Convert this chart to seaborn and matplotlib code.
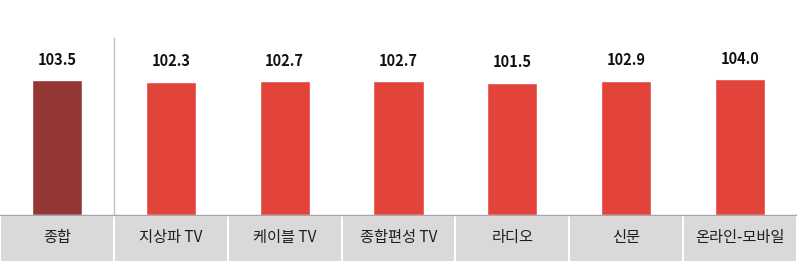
import matplotlib
matplotlib.use("Agg")
import matplotlib.pyplot as plt
from matplotlib.patches import Rectangle
import seaborn as sns
import pandas as pd

categories = ["종합", "지상파 TV", "케이블 TV", "종합편성 TV", "라디오", "신문", "온라인-모바일"]
values = [103.5, 102.3, 102.7, 102.7, 101.5, 102.9, 104.0]
value_labels = ["103.5", "102.3", "102.7", "102.7", "101.5", "102.9", "104.0"]
colors = ["#953735", "#E2433B", "#E2433B", "#E2433B", "#E2433B", "#E2433B", "#E2433B"]

sns.set_theme(style="white")
plt.rcParams['font.family'] = ['Noto Sans CJK KR', 'DejaVu Sans']

W, H = 797, 264
fig = plt.figure(figsize=(W / 100, H / 100), dpi=100)

base_y = 215
ax = fig.add_axes([0, 1 - base_y / H, 1, base_y / H])
df = pd.DataFrame({"cat": categories, "val": values})
sns.barplot(data=df, x="cat", y="val", hue="cat", palette=colors, order=categories,
            hue_order=categories, legend=False, width=0.44, ax=ax, saturation=1)
ax.set_xlim(-0.5, len(categories) - 0.5)
ax.set_ylim(0, 165)
ax.set_xticks([])
ax.set_yticks([])
ax.set_xlabel("")
ax.set_ylabel("")
for s in ["top", "left", "right"]:
    ax.spines[s].set_visible(False)
ax.spines["bottom"].set_color("#A6A6A6")
ax.spines["bottom"].set_linewidth(1.0)

# value labels
for i, cont in enumerate(ax.containers):
    ax.bar_label(cont, labels=[value_labels[i]], padding=9, fontsize=10.5,
                 fontweight="bold", color="#111111")

# separator line between first and second group
ax.plot([0.5, 0.5], [0, 136], color="#BFBFBF", lw=1.0, clip_on=False)

# bottom category boxes
bax = fig.add_axes([0, 3 / H, 1, 45 / H])
bax.set_xlim(-0.5, len(categories) - 0.5)
bax.set_ylim(0, 1)
bax.axis("off")
gap = 0.009
for i, cat in enumerate(categories):
    bax.add_patch(Rectangle((i - 0.5 + gap, 0), 1 - 2 * gap, 1, facecolor="#D9D9D9",
                            edgecolor="none"))
    bax.text(i, 0.52, cat, ha="center", va="center", fontsize=11, color="#1E1E1E",
             fontweight="medium")

fig.savefig("out.png", dpi=100)
